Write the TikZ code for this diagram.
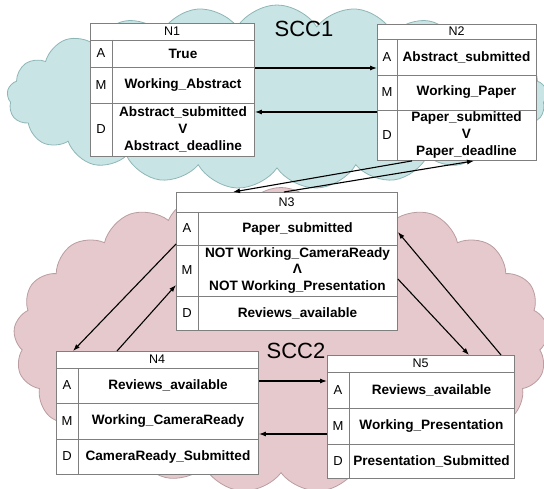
\documentclass[tikz,border=0pt]{standalone}
\usepackage{fontspec}
\setmainfont{Liberation Sans}
\usetikzlibrary{shapes.symbols,arrows.meta}
\definecolor{cyanfill}{HTML}{C8E4E4}
\definecolor{cyanline}{HTML}{8FB6B7}
\definecolor{pinkfill}{HTML}{E6C9CC}
\definecolor{pinkline}{HTML}{BA9CA1}
\definecolor{tblline}{HTML}{7F7F7F}
\tikzset{
  sccone/.style={cloud, cloud puffs=21, cloud puff arc=115, cloud ignores aspect, draw=cyanline, fill=cyanfill, line width=0.8pt, inner sep=0pt},
  scctwo/.style={cloud, cloud puffs=21, cloud puff arc=115, cloud ignores aspect, draw=pinkline, fill=pinkfill, line width=0.8pt, inner sep=0pt},
  tblbox/.style={draw=tblline, fill=white, line width=0.9pt, inner sep=0pt, anchor=north west},
  tline/.style={draw=tblline, line width=0.9pt},
  ttl/.style={font=\fontsize{12.5}{14}\selectfont, inner sep=0pt},
  lbl/.style={font=\fontsize{13}{14}\selectfont, inner sep=0pt},
  cell/.style={font=\bfseries\fontsize{13.6}{16.8}\selectfont, align=center, inner sep=0pt},
  scclbl/.style={font=\fontsize{22}{24}\selectfont, inner sep=0pt},
  arr/.style={-{Latex[length=7pt,width=5pt]}, line width=1.1pt, black}
}
% name, left, top, right, title-bottom, A-bottom, M-bottom, bottom, divider
\newcommand\ftable[9]{%
  \node[tblbox, minimum width={(#4-#2)*1pt}, minimum height={(#8-#3)*1pt}] (#1) at (#2,#3) {};
  \draw[tline] (#2,#5) -- (#4,#5);
  \draw[tline] (#2,#6) -- (#4,#6);
  \draw[tline] (#2,#7) -- (#4,#7);
  \draw[tline] (#9,#5) -- (#9,#8);
  \coordinate (#1-title) at ({(#2+#4)/2},{(#3+#5)/2});
  \coordinate (#1-lA) at ({(#2+#9)/2},{(#5+#6)/2});
  \coordinate (#1-lM) at ({(#2+#9)/2},{(#6+#7)/2});
  \coordinate (#1-lD) at ({(#2+#9)/2},{(#7+#8)/2});
  \coordinate (#1-cA) at ({(#9+#4)/2},{(#5+#6)/2});
  \coordinate (#1-cM) at ({(#9+#4)/2},{(#6+#7)/2});
  \coordinate (#1-cD) at ({(#9+#4)/2},{(#7+#8)/2});
}
\begin{document}
\begin{tikzpicture}[x=1pt,y=-1pt]
\useasboundingbox (0,0) rectangle (544,489);
% clouds
\node[sccone, minimum width=540pt, minimum height=184pt] (scc1) at (277,97) {};
\node[scctwo, minimum width=535pt, minimum height=305pt] (scc2) at (281,340) {};
\node[scclbl] (scc1lbl) at (304,29) {SCC1};
\node[scclbl] (scc2lbl) at (296,351) {SCC2};

% tables
\ftable{N1}{90}{23}{254}{40}{67}{103}{156}{112}
\ftable{N2}{377}{24}{536}{39}{75}{110}{160}{397}
\ftable{N3}{176}{192}{397}{212}{245}{296}{330}{198}
\ftable{N4}{56}{351}{258}{368}{403}{439}{474}{78}
\ftable{N5}{327}{355}{514}{372}{408}{444}{478}{349}

\node[ttl] (N1t) at (N1-title) {N1};
\node[lbl] (N1la) at (N1-lA) {A};
\node[lbl] (N1lm) at (N1-lM) {M};
\node[lbl] (N1ld) at (N1-lD) {D};
\node[cell] (N1ca) at (N1-cA) {True};
\node[cell] (N1cm) at (N1-cM) {Working\_Abstract};
\node[cell] (N1cd) at (N1-cD) {Abstract\_submitted\\V\\Abstract\_deadline};

\node[ttl] (N2t) at (N2-title) {N2};
\node[lbl] (N2la) at (N2-lA) {A};
\node[lbl] (N2lm) at (N2-lM) {M};
\node[lbl] (N2ld) at (N2-lD) {D};
\node[cell] (N2ca) at (N2-cA) {Abstract\_submitted};
\node[cell] (N2cm) at (N2-cM) {Working\_Paper};
\node[cell] (N2cd) at (N2-cD) {Paper\_submitted\\V\\Paper\_deadline};

\node[ttl] (N3t) at (N3-title) {N3};
\node[lbl] (N3la) at (N3-lA) {A};
\node[lbl] (N3lm) at (N3-lM) {M};
\node[lbl] (N3ld) at (N3-lD) {D};
\node[cell] (N3ca) at (N3-cA) {Paper\_submitted};
\node[cell] (N3cm) at (N3-cM) {NOT Working\_CameraReady\\Λ\\NOT Working\_Presentation};
\node[cell] (N3cd) at (N3-cD) {Reviews\_available};

\node[ttl] (N4t) at (N4-title) {N4};
\node[lbl] (N4la) at (N4-lA) {A};
\node[lbl] (N4lm) at (N4-lM) {M};
\node[lbl] (N4ld) at (N4-lD) {D};
\node[cell] (N4ca) at (N4-cA) {Reviews\_available};
\node[cell] (N4cm) at (N4-cM) {Working\_CameraReady};
\node[cell] (N4cd) at (N4-cD) {CameraReady\_Submitted};

\node[ttl] (N5t) at (N5-title) {N5};
\node[lbl] (N5la) at (N5-lA) {A};
\node[lbl] (N5lm) at (N5-lM) {M};
\node[lbl] (N5ld) at (N5-lD) {D};
\node[cell] (N5ca) at (N5-cA) {Reviews\_available};
\node[cell] (N5cm) at (N5-cM) {Working\_Presentation};
\node[cell] (N5cd) at (N5-cD) {Presentation\_Submitted};

% connectors
\draw[arr] (N1.east |- 0,68) -- (N2.west |- 0,68);
\draw[arr] (N2.west |- 0,112) -- (N1.east |- 0,112);
\draw[arr] (N2.south -| 412,0) -- (N3.north -| 233,0);
\draw[arr] (N3.north -| 284,0) -- (N2.south -| 474,0);
\draw[arr] (N3.west |- 0,244) -- (N4.north -| 73,0);
\draw[arr] (N4.north -| 117,0) -- (N3.west |- 0,285);
\draw[arr] (N3.east |- 0,279) -- (N5.north -| 469,0);
\draw[arr] (N5.north -| 501,0) -- (N3.east |- 0,232);
\draw[arr] (N4.east |- 0,381) -- (N5.west |- 0,381);
\draw[arr] (N5.west |- 0,434) -- (N4.east |- 0,434);
\end{tikzpicture}
\end{document}
